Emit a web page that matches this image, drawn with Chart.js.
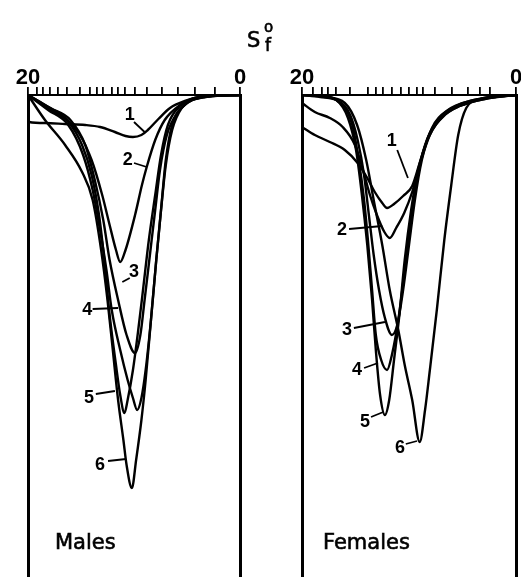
<!DOCTYPE html>
<html>
<head>
<meta charset="utf-8">
<script src="https://cdn.jsdelivr.net/npm/chart.js@4.4.1/dist/chart.umd.min.js"></script>
<style>
  body { margin: 0; background: #fff; width: 521px; height: 577px; position: relative; overflow: hidden;
         font-family: "DejaVu Sans", sans-serif; color: #000; }
  canvas { position: absolute; top: 0; }
  #males { left: 0; }
  #females { left: 261px; }
  .t { position: absolute; white-space: nowrap; line-height: 1; -webkit-text-stroke: 0.6px #000; }
</style>
</head>
<body>
<canvas id="males" width="260" height="577"></canvas>
<canvas id="females" width="260" height="577"></canvas>
<div class="t" style="left:247px;top:30px;font-size:21px">S</div>
<div class="t" style="left:264px;top:20px;font-size:15px">o</div>
<div class="t" style="left:265px;top:37px;font-size:17px">f</div>
<div class="t" style="left:55px;top:532px;font-size:21px">Males</div>
<div class="t" style="left:323px;top:532px;font-size:21px">Females</div>
<script>
// S_f value (20 -> 0) and relative depth below the top line
const male1 = [[20,0],[19.9,2.7],[18.4,2.8],[16.5,2.9],[14.6,3.0],[13.2,3.2],[11.8,3.7],[10.8,4.1],[10.1,4.2],[9.3,4.0],[8.7,3.5],[7.7,2.4],[6.6,1.3],[5.2,0.6],[3.8,0.2],[2.4,0.05],[0,0]];
const male2 = [[20,0],[18.4,1.0],[16.5,2.3],[15.1,4.0],[14.0,6.5],[13.0,10.0],[12.3,13.0],[11.7,15.5],[11.3,16.7],[10.8,15.5],[9.9,12.0],[9.25,9.0],[8.8,7.2],[8.0,4.5],[7.1,2.5],[5.65,1.0],[4.25,0.3],[2.4,0.05],[0,0]];
const male3 = [[20,0],[17.9,1.3],[16.0,2.5],[14.6,5.0],[13.7,8.5],[12.9,12.5],[12.3,16.5],[11.5,20.5],[10.7,24.0],[9.9,25.8],[9.4,24.0],[9.0,20.5],[8.5,16.0],[8.0,11.5],[7.55,7.5],[6.9,4.0],[5.85,1.7],[4.5,0.5],[2.8,0.1],[0,0]];
const male4 = [[20,0],[18.1,1.5],[16.2,3.0],[14.8,6.0],[13.9,9.5],[13.2,13.5],[12.6,17.5],[12.1,21.5],[11.3,25.5],[10.6,28.5],[10.1,30.3],[9.7,31.5],[9.3,30.3],[8.9,27.5],[8.4,22.5],[7.9,16.5],[7.45,11.5],[7.0,6.5],[6.4,3.0],[5.2,1.0],[3.3,0.2],[0,0]];
const male5 = [[20,0],[17.9,1.5],[16.2,2.7],[14.9,5.0],[14.0,8.0],[13.3,12.0],[12.8,16.5],[12.3,22.0],[11.7,27.0],[11.3,30.0],[10.9,31.8],[10.6,30.5],[10.1,27.5],[9.6,23.5],[9.15,19.5],[8.6,14.5],[8.0,10.0],[7.45,6.0],[6.8,3.0],[5.65,1.1],[3.8,0.2],[0,0]];
const male6 = [[20,0],[18.4,2.5],[16.5,5.0],[14.9,7.7],[13.9,10.5],[13.1,15.5],[12.5,20.5],[12.0,25.5],[11.5,30.5],[11.0,34.5],[10.7,37.0],[10.2,39.3],[9.8,36.5],[9.3,32.5],[8.9,28.5],[8.4,22.5],[7.9,16.5],[7.45,11.5],[7.0,7.0],[6.4,3.5],[5.5,1.3],[3.8,0.3],[0,0]];

const female1 = [[20,3.2],[18.8,4.0],[17.4,4.7],[16.0,5.5],[14.8,6.8],[13.9,8.3],[13.2,9.7],[12.5,10.8],[12.05,11.3],[11.4,10.9],[10.55,10.1],[9.7,9.1],[9.0,6.8],[8.05,3.8],[6.65,1.8],[4.75,0.9],[2.45,0.3],[0,0]];
const female2 = [[20,0.8],[18.8,1.7],[17.4,2.3],[16.2,3.2],[15.05,5.0],[14.3,7.5],[13.65,10.0],[13.0,12.0],[12.3,13.7],[11.8,14.3],[11.2,13.3],[10.45,11.8],[9.7,9.7],[9.0,7.0],[8.05,4.0],[6.8,2.1],[5.25,1.1],[2.9,0.4],[0,0]];
const female3 = [[20,0],[18.3,0.2],[16.6,0.6],[15.5,2.0],[14.8,4.5],[14.2,8.0],[13.75,12.0],[13.3,16.0],[12.8,19.5],[12.25,22.3],[11.6,24.0],[11.1,23.0],[10.55,19.5],[10.0,15.0],[9.45,10.5],[8.8,6.5],[7.85,3.3],[6.35,1.5],[4.3,0.6],[1.95,0.2],[0,0]];
const female4 = [[20,0],[18.1,0.1],[16.45,0.8],[15.3,3.0],[14.7,6.5],[14.2,10.5],[13.8,15.0],[13.45,19.5],[13.1,24.0],[12.6,26.5],[12.05,27.5],[11.6,26.0],[11.0,22.5],[10.4,17.5],[9.8,12.5],[9.25,8.5],[8.5,5.0],[7.3,2.5],[5.4,1.0],[2.9,0.3],[0,0]];
const female5 = [[20,0],[18.3,0.1],[16.8,0.5],[15.7,2.3],[14.95,5.5],[14.4,10.0],[13.9,15.0],[13.45,20.5],[13.1,25.5],[12.7,30.0],[12.25,32.0],[11.85,30.5],[11.4,26.5],[10.9,22.0],[10.4,16.5],[9.8,11.5],[9.15,7.5],[8.2,4.3],[6.65,2.0],[4.3,0.7],[1.5,0.1],[0,0]];
const female6 = [[20,0],[17.85,0.2],[16.0,0.8],[14.85,3.0],[14.0,6.5],[13.3,10.5],[12.5,15.0],[11.8,19.5],[11.0,23.5],[10.4,27.0],[9.7,30.5],[9.0,34.7],[8.5,31.5],[8.05,27.5],[7.4,21.5],[6.7,14.5],[6.05,9.0],[5.4,4.0],[4.65,1.3],[3.35,0.4],[1.5,0.1],[0,0]];

// tick marks along the top scale
const maleTicks = [20, 19.15, 18.6, 17.9, 17.2, 16.3, 15.1, 14.15, 13.5, 12.9, 12.1, 11.5, 10.85, 9.9, 8.8, 7.4, 5.85, 4.25, 2.35, 0];
const femaleTicks = [20, 19.0, 18.1, 17.6, 16.8, 15.5, 13.8, 13.1, 12.4, 11.6, 10.8, 10.0, 9.25, 8.7, 7.6, 6.0, 4.5, 3.35, 2.4, 0];
const tickLabels = [20, 0];

// curve number, label (S_f, depth), leader from -> to
const maleLabels = [
  ['1', 10.4, 2.0, 10.0, 2.7, 9.0, 3.7],
  ['2', 10.6, 6.5, 10.0, 6.8, 8.8, 7.2],
  ['3', 10.0, 17.7, 10.4, 18.3, 11.1, 18.7],
  ['4', 14.4, 21.5, 13.9, 21.4, 11.5, 21.3],
  ['5', 14.25, 30.3, 13.6, 29.9, 11.8, 29.6],
  ['6', 13.2, 37.0, 12.45, 36.6, 10.75, 36.4]
];
const femaleLabels = [
  ['1', 11.6, 4.6, 11.1, 5.5, 10.1, 8.3],
  ['2', 16.25, 13.5, 15.6, 13.4, 12.5, 13.1],
  ['3', 15.8, 23.5, 15.15, 23.3, 12.25, 22.7],
  ['4', 14.85, 27.5, 14.2, 27.3, 12.9, 26.8],
  ['5', 14.1, 32.7, 13.55, 32.2, 12.4, 31.7],
  ['6', 10.85, 35.3, 10.3, 34.9, 9.25, 34.6]
];

const curveLabels = {
  id: 'curveLabels',
  afterDatasetsDraw(chart, args, opts) {
    const { ctx, scales: { x, y } } = chart;
    ctx.save();
    ctx.strokeStyle = '#000';
    ctx.fillStyle = '#000';
    ctx.lineWidth = 1.8;
    ctx.font = 'bold 18px "Liberation Sans"';
    ctx.textAlign = 'center';
    ctx.textBaseline = 'middle';
    opts.items.forEach(([t, ts, td, s0, d0, s1, d1]) => {
      ctx.fillText(t, x.getPixelForValue(ts), y.getPixelForValue(td));
      ctx.beginPath();
      ctx.moveTo(x.getPixelForValue(s0), y.getPixelForValue(d0));
      ctx.lineTo(x.getPixelForValue(s1), y.getPixelForValue(d1));
      ctx.stroke();
    });
    ctx.restore();
  }
};

function sideAxis(pos) {
  return {
    type: 'linear', position: pos, min: 0, max: 48.2, reverse: true,
    ticks: { display: false }, grid: { display: false },
    border: { display: true, color: '#000', width: 3 },
    afterFit: s => { s.width = 0; }
  };
}

function makePanel(id, curves, ticks, labels, padLeft, padRight) {
  new Chart(document.getElementById(id), {
    type: 'line',
    data: {
      datasets: curves.map(c => ({
        data: c.map(p => ({ x: p[0], y: p[1] })),
        borderColor: '#000',
        borderWidth: 2.4,
        pointRadius: 0,
        cubicInterpolationMode: 'monotone',
        fill: false
      }))
    },
    options: {
      responsive: false,
      animation: false,
      devicePixelRatio: 1,
      layout: { padding: { left: padLeft, right: padRight, top: 0, bottom: 0 } },
      plugins: { legend: { display: false }, tooltip: { enabled: false }, curveLabels: { items: labels } },
      scales: {
        x: {
          type: 'linear', position: 'top', min: 0, max: 20, reverse: true,
          afterBuildTicks: s => { s.ticks = ticks.map(v => ({ value: v })); },
          afterFit: s => { s.height = 95; },
          ticks: {
            autoSkip: false, maxRotation: 0, padding: -4, color: '#000',
            font: { family: 'Liberation Sans', size: 22, weight: 'bold' },
            callback: v => tickLabels.includes(v) ? String(v) : ''
          },
          grid: { drawOnChartArea: false, color: '#000', lineWidth: 1.8, tickLength: 8 },
          border: { display: true, color: '#000', width: 2 }
        },
        y: sideAxis('left'),
        y2: sideAxis('right')
      }
    },
    plugins: [curveLabels]
  });
}

makePanel('males', [male1, male2, male3, male4, male5, male6], maleTicks, maleLabels, 28, 20);
makePanel('females', [female1, female2, female3, female4, female5, female6], femaleTicks, femaleLabels, 41, 5);
</script>
</body>
</html>
